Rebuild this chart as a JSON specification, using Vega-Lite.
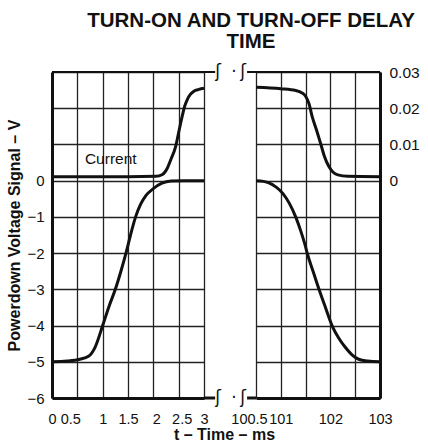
{
  "$schema": "https://vega.github.io/schema/vega-lite/v6.json",
  "padding": {"left": 6, "top": 10, "right": 5, "bottom": 0},
  "background": "white",
  "title": {
    "text": ["TURN-ON AND TURN-OFF DELAY", "TIME"],
    "font": "Liberation Sans",
    "fontSize": 20.5,
    "fontWeight": "bold",
    "color": "#111",
    "anchor": "middle",
    "lineHeight": 21,
    "offset": 11,
    "dx": 38
  },
  "config": {
    "view": {"stroke": null},
    "font": "Liberation Sans",
    "axis": {
      "gridColor": "#222",
      "gridWidth": 1.3,
      "gridOpacity": 1,
      "domainColor": "#111",
      "domainWidth": 3,
      "ticks": false,
      "tickCount": 20,
      "labelOverlap": false,
      "labelFlush": false,
      "labelColor": "#111",
      "labelFont": "Liberation Sans",
      "labelFontSize": 15,
      "titleFont": "Liberation Sans",
      "titleFontSize": 16,
      "titleFontWeight": "bold",
      "titleColor": "#111"
    }
  },
  "bounds": "flush",
  "spacing": 52,
  "datasets": {
    "on": [
      {"t": 0, "value": -5, "s": "Voltage"},
      {"t": 0.3, "value": -4.98, "s": "Voltage"},
      {"t": 0.55, "value": -4.93, "s": "Voltage"},
      {"t": 0.72, "value": -4.85, "s": "Voltage"},
      {"t": 0.85, "value": -4.6, "s": "Voltage"},
      {"t": 1.0, "value": -4.0, "s": "Voltage"},
      {"t": 1.13, "value": -3.45, "s": "Voltage"},
      {"t": 1.25, "value": -3.0, "s": "Voltage"},
      {"t": 1.36, "value": -2.5, "s": "Voltage"},
      {"t": 1.46, "value": -2.0, "s": "Voltage"},
      {"t": 1.55, "value": -1.5, "s": "Voltage"},
      {"t": 1.65, "value": -1.0, "s": "Voltage"},
      {"t": 1.75, "value": -0.65, "s": "Voltage"},
      {"t": 1.86, "value": -0.4, "s": "Voltage"},
      {"t": 2.0, "value": -0.22, "s": "Voltage"},
      {"t": 2.17, "value": -0.07, "s": "Voltage"},
      {"t": 2.35, "value": -0.01, "s": "Voltage"},
      {"t": 2.6, "value": 0, "s": "Voltage"},
      {"t": 3.0, "value": 0, "s": "Voltage"},
      {"t": 0, "value": 0.0011, "s": "Current"},
      {"t": 1.5, "value": 0.0011, "s": "Current"},
      {"t": 2.05, "value": 0.0012, "s": "Current"},
      {"t": 2.18, "value": 0.0017, "s": "Current"},
      {"t": 2.27, "value": 0.0033, "s": "Current"},
      {"t": 2.35, "value": 0.006, "s": "Current"},
      {"t": 2.44, "value": 0.0094, "s": "Current"},
      {"t": 2.51, "value": 0.014, "s": "Current"},
      {"t": 2.57, "value": 0.0178, "s": "Current"},
      {"t": 2.62, "value": 0.0206, "s": "Current"},
      {"t": 2.67, "value": 0.0224, "s": "Current"},
      {"t": 2.73, "value": 0.0238, "s": "Current"},
      {"t": 2.8, "value": 0.0247, "s": "Current"},
      {"t": 2.9, "value": 0.0252, "s": "Current"},
      {"t": 3.0, "value": 0.0255, "s": "Current"}
    ],
    "off": [
      {"t": 100.5, "value": 0, "s": "Voltage"},
      {"t": 100.65, "value": -0.02, "s": "Voltage"},
      {"t": 100.76, "value": -0.06, "s": "Voltage"},
      {"t": 100.9, "value": -0.17, "s": "Voltage"},
      {"t": 101.04, "value": -0.35, "s": "Voltage"},
      {"t": 101.17, "value": -0.62, "s": "Voltage"},
      {"t": 101.3, "value": -1.0, "s": "Voltage"},
      {"t": 101.4, "value": -1.38, "s": "Voltage"},
      {"t": 101.5, "value": -1.83, "s": "Voltage"},
      {"t": 101.53, "value": -1.99, "s": "Voltage"},
      {"t": 101.65, "value": -2.5, "s": "Voltage"},
      {"t": 101.77, "value": -3.0, "s": "Voltage"},
      {"t": 101.9, "value": -3.5, "s": "Voltage"},
      {"t": 102.04, "value": -4.02, "s": "Voltage"},
      {"t": 102.17, "value": -4.35, "s": "Voltage"},
      {"t": 102.3, "value": -4.6, "s": "Voltage"},
      {"t": 102.43, "value": -4.8, "s": "Voltage"},
      {"t": 102.57, "value": -4.93, "s": "Voltage"},
      {"t": 102.75, "value": -4.98, "s": "Voltage"},
      {"t": 103.0, "value": -5.0, "s": "Voltage"},
      {"t": 100.5, "value": 0.0258, "s": "Current"},
      {"t": 101.0, "value": 0.0254, "s": "Current"},
      {"t": 101.3, "value": 0.0249, "s": "Current"},
      {"t": 101.42, "value": 0.0243, "s": "Current"},
      {"t": 101.5, "value": 0.0233, "s": "Current"},
      {"t": 101.57, "value": 0.0212, "s": "Current"},
      {"t": 101.63, "value": 0.0178, "s": "Current"},
      {"t": 101.72, "value": 0.014, "s": "Current"},
      {"t": 101.8, "value": 0.0104, "s": "Current"},
      {"t": 101.88, "value": 0.0067, "s": "Current"},
      {"t": 101.97, "value": 0.0039, "s": "Current"},
      {"t": 102.05, "value": 0.0024, "s": "Current"},
      {"t": 102.15, "value": 0.0016, "s": "Current"},
      {"t": 102.35, "value": 0.0012, "s": "Current"},
      {"t": 103.0, "value": 0.0011, "s": "Current"}
    ],
    "frameLeft": [
      {"x1": 0, "x2": 3.22, "y": 3, "edge": "top"},
      {"x1": 3, "x2": 3.22, "y": -6, "edge": "bottom"}
    ],
    "frameRight": [
      {"x1": 100.32, "x2": 103, "y": 3, "edge": "top"},
      {"x1": 100.32, "x2": 100.5, "y": -6, "edge": "bottom"}
    ],
    "breaksLeft": [
      {"t": 3.28, "value": 3, "g": "ʃ"},
      {"t": 3.59, "value": 3, "g": "·"},
      {"t": 3.28, "value": -6, "g": "ʃ"},
      {"t": 3.59, "value": -6, "g": "·"}
    ],
    "breaksRight": [
      {"t": 100.24, "value": 3, "g": "ʃ"},
      {"t": 100.24, "value": -6, "g": "ʃ"}
    ],
    "labels": [
      {"t": 1.16, "value": 0.6, "label": "Current"}
    ]
  },
  "hconcat": [
    {
      "width": 152,
      "height": 326,
      "layer": [
        {
          "data": {"name": "on"},
          "transform": [{"filter": "datum.s === 'Voltage'"}],
          "mark": {"type": "line", "color": "#111", "strokeWidth": 3, "interpolate": "monotone"},
          "encoding": {
            "x": {
              "field": "t", "type": "quantitative",
              "scale": {"domain": [0, 3], "nice": false},
              "axis": {
                "values": [0, 0.5, 1, 1.5, 2, 2.5, 3],
                "tickCount": 20,
                "format": "~g",
                "grid": true,
                "labelFontSize": 14.5,
                "labelPadding": 14,
                "labelOffset": {"expr": "datum.value === 0.5 ? -7 : (datum.value === 2 || datum.value === 2.5) ? 3 : 0"},
                "title": "t – Time – ms",
                "titleX": 172,
                "titleY": 28,
                "titleAnchor": "middle"
              }
            },
            "y": {
              "field": "value", "type": "quantitative",
              "scale": {"domain": [-6, 3], "nice": false, "zero": false},
              "axis": {
                "values": [-6, -5, -4, -3, -2, -1, 0, 1, 2, 3],
                "tickCount": 20,
                "format": "~g",
                "labelExpr": "datum.value > 0 ? '' : datum.label",
                "grid": true,
                "labelPadding": 8,
                "titlePadding": 4,
                "title": "Powerdown Voltage Signal – V"
              }
            }
          }
        },
        {
          "data": {"name": "on"},
          "transform": [{"filter": "datum.s === 'Current'"}],
          "mark": {"type": "line", "color": "#111", "strokeWidth": 3, "interpolate": "monotone"},
          "encoding": {
            "x": {"field": "t", "type": "quantitative", "scale": {"domain": [0, 3], "nice": false}},
            "y": {
              "field": "value", "type": "quantitative",
              "scale": {"domain": [-0.06, 0.03], "nice": false, "zero": false},
              "axis": null
            }
          }
        },
        {
          "data": {"name": "frameLeft"},
          "transform": [{"filter": "datum.edge === 'top'"}],
          "mark": {"type": "rule", "color": "#111", "strokeWidth": 2},
          "encoding": {
            "x": {"field": "x1", "type": "quantitative", "scale": {"domain": [0, 3], "nice": false}},
            "x2": {"field": "x2"},
            "y": {"field": "y", "type": "quantitative", "scale": {"domain": [-6, 3], "nice": false, "zero": false}, "axis": null}
          }
        },
        {
          "data": {"name": "frameLeft"},
          "transform": [{"filter": "datum.edge === 'bottom'"}],
          "mark": {"type": "rule", "color": "#111", "strokeWidth": 3},
          "encoding": {
            "x": {"field": "x1", "type": "quantitative", "scale": {"domain": [0, 3], "nice": false}},
            "x2": {"field": "x2"},
            "y": {"field": "y", "type": "quantitative", "scale": {"domain": [-6, 3], "nice": false, "zero": false}, "axis": null}
          }
        },
        {
          "data": {"name": "breaksLeft"},
          "mark": {"type": "text", "font": "DejaVu Sans", "fontSize": 17, "color": "#111", "baseline": "middle", "align": "center"},
          "encoding": {
            "x": {"field": "t", "type": "quantitative", "scale": {"domain": [0, 3], "nice": false}},
            "y": {"field": "value", "type": "quantitative", "scale": {"domain": [-6, 3], "nice": false, "zero": false}, "axis": null},
            "text": {"field": "g"}
          }
        },
        {
          "data": {"name": "labels"},
          "mark": {"type": "text", "font": "Liberation Sans", "fontSize": 15.5, "color": "#111", "baseline": "middle", "align": "center"},
          "encoding": {
            "x": {"field": "t", "type": "quantitative", "scale": {"domain": [0, 3], "nice": false}},
            "y": {"field": "value", "type": "quantitative", "scale": {"domain": [-6, 3], "nice": false, "zero": false}, "axis": null},
            "text": {"field": "label"}
          }
        }
      ],
      "resolve": {"scale": {"y": "independent"}}
    },
    {
      "width": 124,
      "height": 326,
      "layer": [
        {
          "data": {"name": "off"},
          "transform": [{"filter": "datum.s === 'Voltage'"}],
          "mark": {"type": "line", "color": "#111", "strokeWidth": 3, "interpolate": "monotone"},
          "encoding": {
            "x": {
              "field": "t", "type": "quantitative",
              "scale": {"domain": [100.5, 103], "nice": false, "zero": false},
              "axis": {
                "values": [100.5, 101, 101.5, 102, 102.5, 103],
                "tickCount": 20,
                "format": "~g",
                "labelExpr": "(datum.value === 101.5 || datum.value === 102.5) ? '' : datum.label",
                "labelOffset": {"expr": "datum.value === 100.5 ? -7 : 0"},
                "grid": true,
                "labelFontSize": 14.5,
                "labelPadding": 14,
                "title": null
              }
            },
            "y": {
              "field": "value", "type": "quantitative",
              "scale": {"domain": [-6, 3], "nice": false, "zero": false},
              "axis": {
                "values": [-6, -5, -4, -3, -2, -1, 0, 1, 2, 3],
                "tickCount": 20,
                "grid": true,
                "labels": false,
                "domain": false,
                "title": null
              }
            }
          }
        },
        {
          "data": {"name": "off"},
          "transform": [{"filter": "datum.s === 'Current'"}],
          "mark": {"type": "line", "color": "#111", "strokeWidth": 3, "interpolate": "monotone"},
          "encoding": {
            "x": {"field": "t", "type": "quantitative", "scale": {"domain": [100.5, 103], "nice": false, "zero": false}},
            "y": {
              "field": "value", "type": "quantitative",
              "scale": {"domain": [-0.06, 0.03], "nice": false, "zero": false},
              "axis": {
                "orient": "right",
                "values": [0, 0.01, 0.02, 0.03],
                "tickCount": 20,
                "format": "~g",
                "grid": false,
                "labelPadding": 9,
                "labelFontSize": 15.5,
                "title": null
              }
            }
          }
        },
        {
          "data": {"name": "frameRight"},
          "transform": [{"filter": "datum.edge === 'top'"}],
          "mark": {"type": "rule", "color": "#111", "strokeWidth": 2},
          "encoding": {
            "x": {"field": "x1", "type": "quantitative", "scale": {"domain": [100.5, 103], "nice": false, "zero": false}},
            "x2": {"field": "x2"},
            "y": {"field": "y", "type": "quantitative", "scale": {"domain": [-6, 3], "nice": false, "zero": false}, "axis": null}
          }
        },
        {
          "data": {"name": "frameRight"},
          "transform": [{"filter": "datum.edge === 'bottom'"}],
          "mark": {"type": "rule", "color": "#111", "strokeWidth": 3},
          "encoding": {
            "x": {"field": "x1", "type": "quantitative", "scale": {"domain": [100.5, 103], "nice": false, "zero": false}},
            "x2": {"field": "x2"},
            "y": {"field": "y", "type": "quantitative", "scale": {"domain": [-6, 3], "nice": false, "zero": false}, "axis": null}
          }
        },
        {
          "data": {"name": "breaksRight"},
          "mark": {"type": "text", "font": "DejaVu Sans", "fontSize": 17, "color": "#111", "baseline": "middle", "align": "center"},
          "encoding": {
            "x": {"field": "t", "type": "quantitative", "scale": {"domain": [100.5, 103], "nice": false, "zero": false}},
            "y": {"field": "value", "type": "quantitative", "scale": {"domain": [-6, 3], "nice": false, "zero": false}, "axis": null},
            "text": {"field": "g"}
          }
        }
      ],
      "resolve": {"scale": {"y": "independent"}}
    }
  ]
}
